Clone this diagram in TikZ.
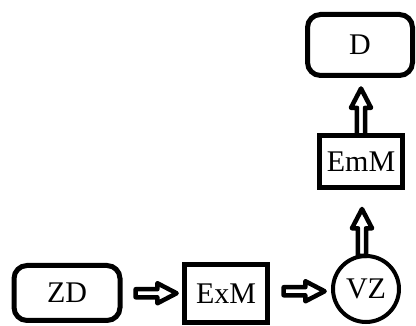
\documentclass[tikz,border=0pt]{standalone}
\usepackage{fontspec}
\setmainfont{Liberation Serif}
\usetikzlibrary{shapes.arrows,calc}
\begin{document}
\begin{tikzpicture}[x=1pt,y=-1pt,
  txt/.style={font=\fontsize{30}{34}\selectfont, inner sep=0pt, outer sep=0pt},
  rbox/.style={txt, draw, line width=5pt, rounded corners=13pt},
  sbox/.style={txt, draw, line width=5pt},
  cbox/.style={txt, draw, circle, line width=4pt},
  barrow/.style={single arrow, draw, fill=white, line width=4.5pt, line join=round,
    inner sep=1.8pt, outer sep=0pt, single arrow head extend=6pt,
    single arrow tip angle=55, single arrow head indent=0pt}
]
\useasboundingbox (0,0) rectangle (416,326);
\node[rbox, minimum width=106pt, minimum height=55pt] (zd) at (67,293) {ZD};
\node[sbox, minimum width=83pt, minimum height=58pt] (exm) at (226,293.5) {ExM};
\node[cbox, minimum size=66pt] (vz) at (366,289) {VZ};
\node[sbox, minimum width=83pt, minimum height=52pt] (emm) at (361,161.5) {EmM};
\node[rbox, minimum width=105pt, minimum height=61pt] (d) at (360,45) {D};
\node[barrow, minimum height=41pt] (a1) at ($(zd.east)!0.5!(exm.west)$) {};
\node[barrow, minimum height=41pt] (a2) at ($(exm.east)!0.5!(vz.west)$) {};
\node[barrow, minimum height=47pt, shape border rotate=90, anchor=tail] (a3) at ([xshift=-4pt]vz.north) {};
\node[barrow, minimum height=47pt, shape border rotate=90, anchor=tail] (a4) at (emm.north) {};
\end{tikzpicture}
\end{document}
